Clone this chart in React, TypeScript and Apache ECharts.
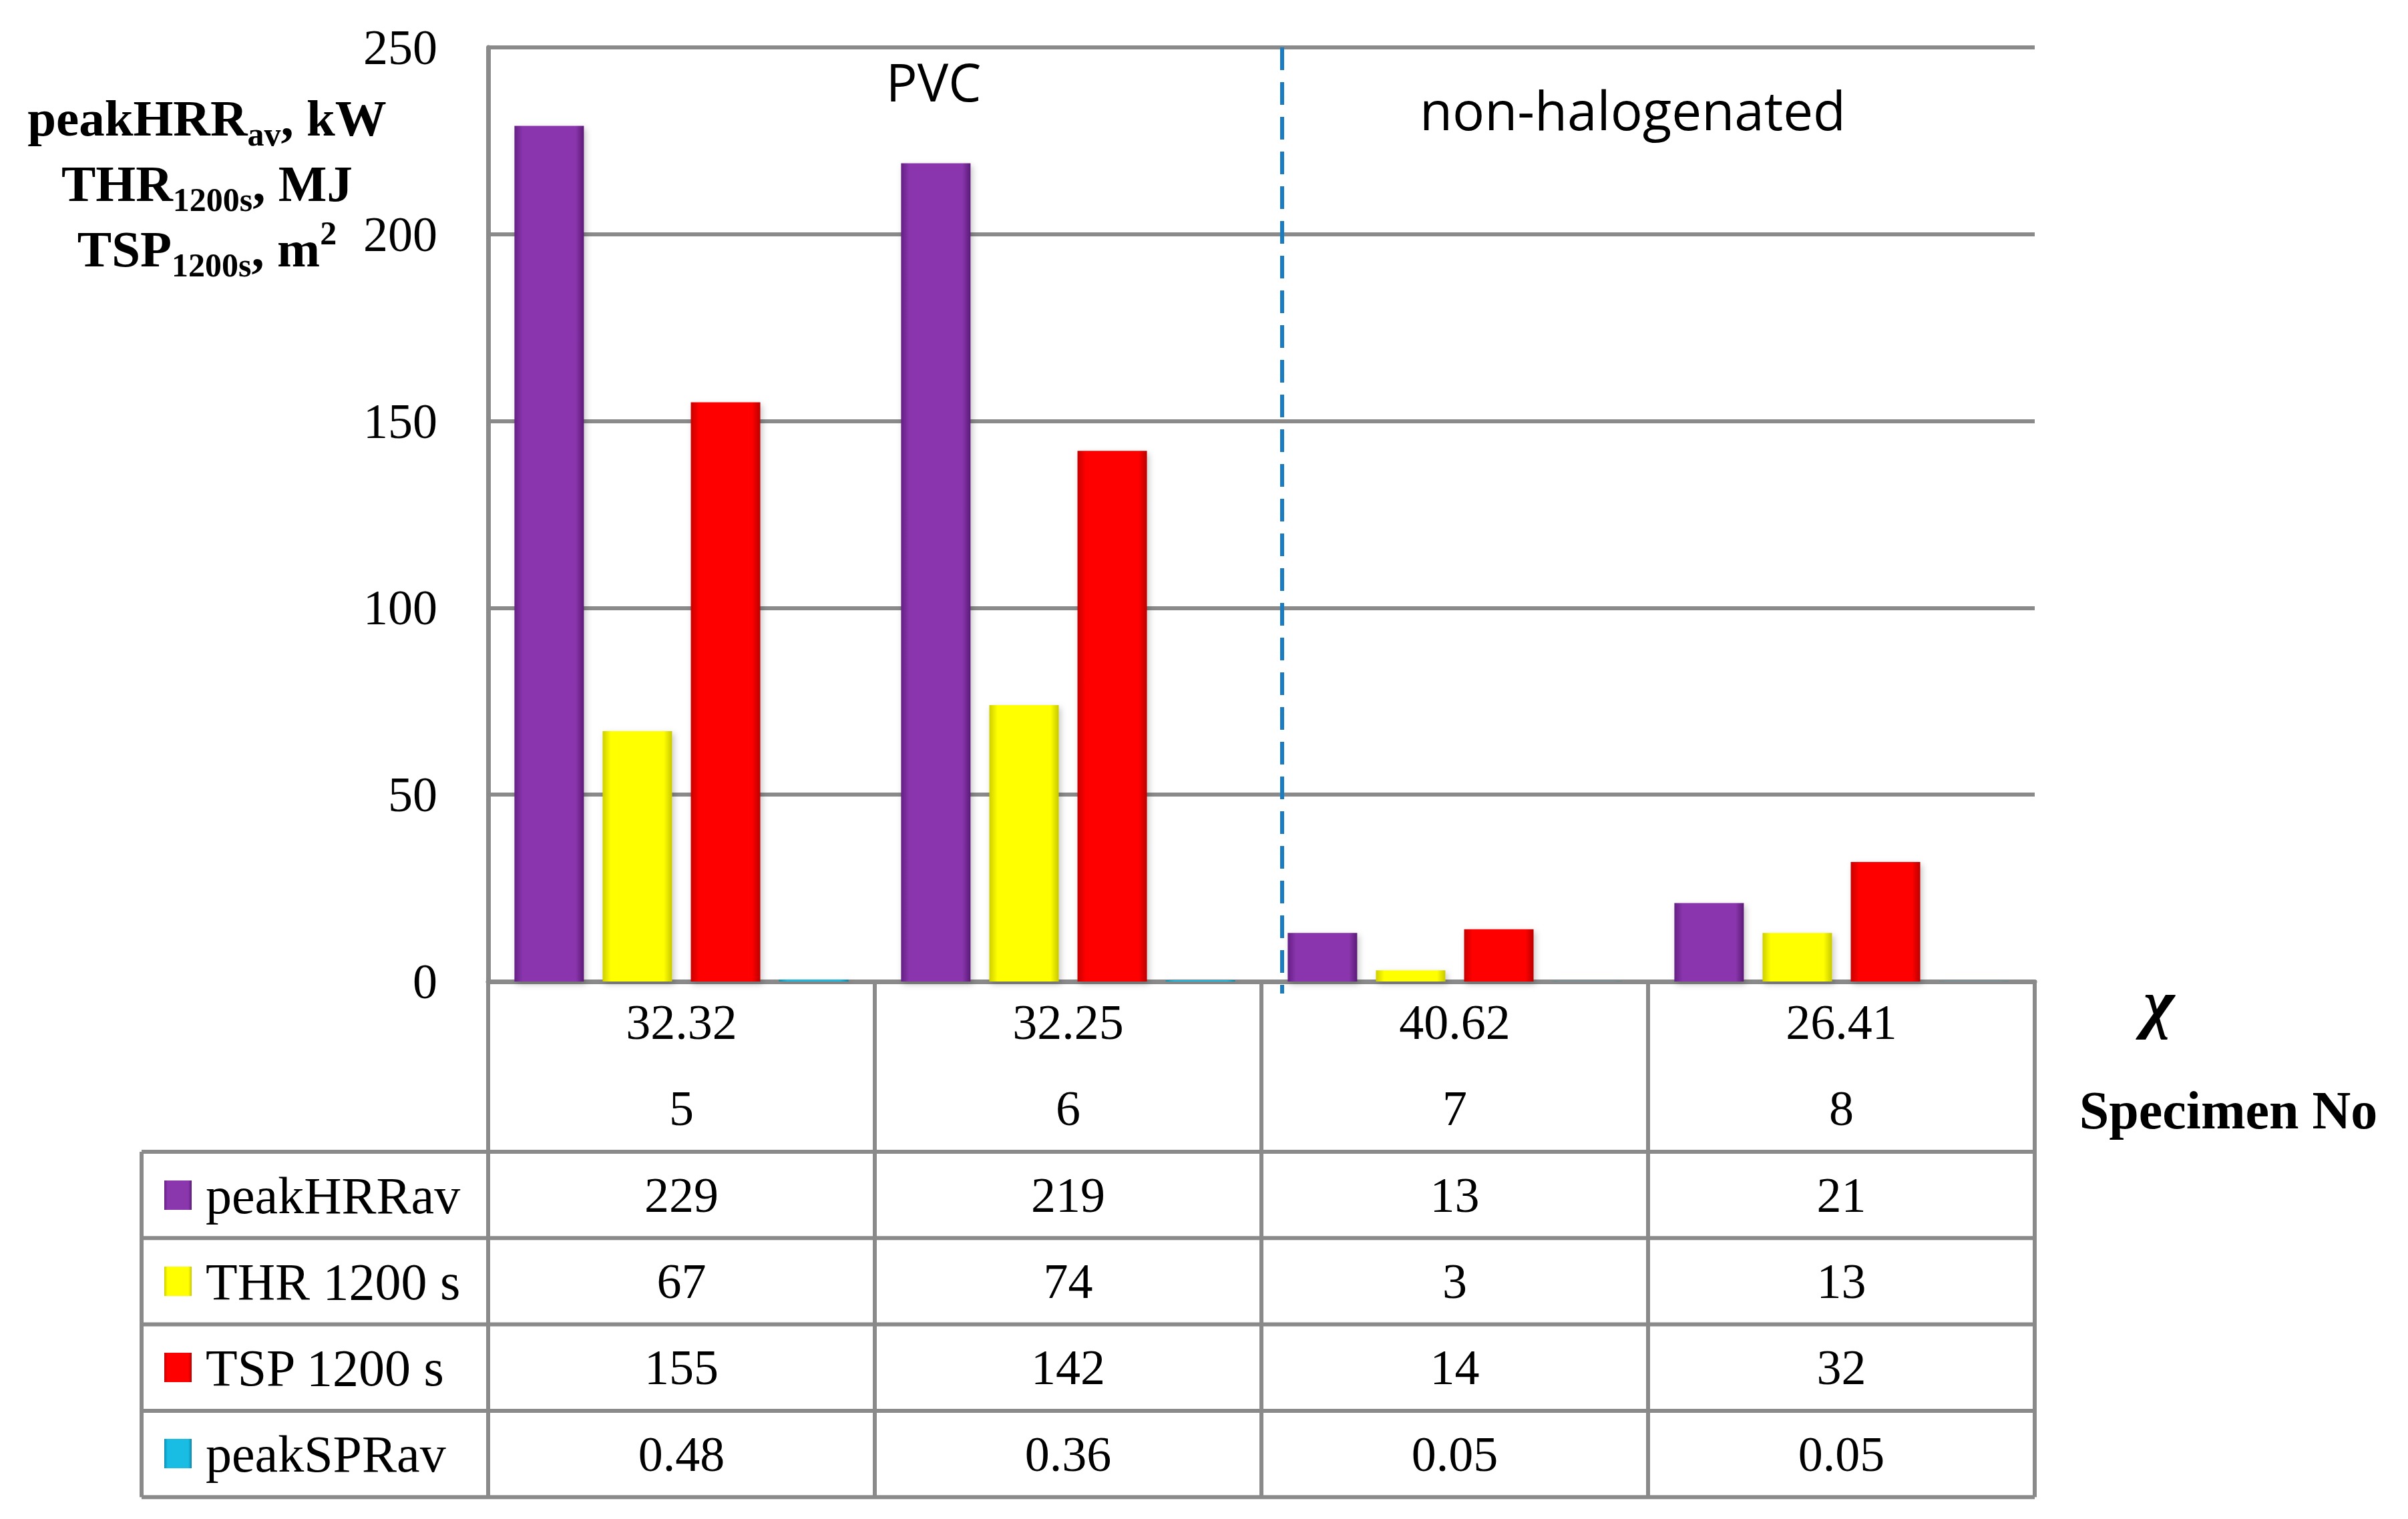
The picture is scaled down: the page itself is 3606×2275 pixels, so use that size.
import React, { useEffect, useRef } from 'react';
import * as echarts from 'echarts';

// ---- data ----
const specimens = ['5', '6', '7', '8'];
const chiValues = ['32.32', '32.25', '40.62', '26.41'];
const peakHRRav = [229, 219, 13, 21];
const thr1200 = [67, 74, 3, 13];
const tsp1200 = [155, 142, 14, 32];
const peakSPRav = [0.48, 0.36, 0.05, 0.05];
const seriesNames = ['peakHRRav', 'THR 1200 s', 'TSP 1200 s', 'peakSPRav'];
const seriesValues = [peakHRRav, thr1200, tsp1200, peakSPRav];
const yMin = 0;
const yMax = 250;
const yStep = 50;
const groupLabels = ['PVC', 'non-halogenated'];

// ---- layout / style ----
const W = 3606;
const H = 2275;
const gridLeft = 731;
const gridRight = 3047;
const gridTop = 71;
const gridBottom = 1470;
const tableLeft = 212;
const tableTop = 1725;
const rowH = 129.3;
const tableBottom = tableTop + rowH * 4;
const colW = (gridRight - gridLeft) / specimens.length;
const lineGray = '#8a8a8a';
const SERIF = '"Liberation Serif", "Times New Roman", serif';
const SANS = '"Open Sans", "Noto Sans", sans-serif';

const barColors = [
  ['#651f85', '#8a36ad', '#8a36ad', '#5a1a77'],
  ['#cfcf00', '#ffff00', '#ffff00', '#c8c800'],
  ['#c80000', '#ff0000', '#ff0000', '#bb0000'],
  ['#0a8fb5', '#19bce3', '#19bce3', '#0a86aa'],
];

const grad = (c: string[]) =>
  new echarts.graphic.LinearGradient(0, 0, 1, 0, [
    { offset: 0, color: c[0] },
    { offset: 0.12, color: c[1] },
    { offset: 0.88, color: c[2] },
    { offset: 1, color: c[3] },
  ]);

export default function App() {
  const ref = useRef<HTMLDivElement>(null);

  useEffect(() => {
    if (!ref.current) return;
    const chart = echarts.init(ref.current, null, { renderer: 'svg' });

    const option: any = {
      animation: false,
      backgroundColor: '#ffffff',
      grid: {
        left: gridLeft,
        right: W - gridRight,
        top: gridTop,
        bottom: H - gridBottom,
        containLabel: false,
      },
      legend: {
        orient: 'vertical',
        left: 241,
        top: 1787 - 41,
        itemWidth: 41,
        itemHeight: 44,
        itemGap: 129 - 78,
        icon: 'rect',
        selectedMode: false,
        data: seriesNames,
        textStyle: {
          fontSize: 78,
          lineHeight: 78,
          fontFamily: SERIF,
          color: '#000',
          padding: [0, 0, 0, 16],
        },
      },
      xAxis: {
        type: 'category',
        data: specimens,
        boundaryGap: true,
        axisLine: { show: true, lineStyle: { color: lineGray, width: 7 } },
        axisTick: {
          show: true,
          interval: 0,
          length: tableBottom - gridBottom,
          lineStyle: { color: lineGray, width: 6 },
        },
        axisLabel: {
          interval: 0,
          margin: -4,
          fontSize: 74,
          lineHeight: 129,
          fontFamily: SERIF,
          color: '#000',
          formatter: (v: string, i: number) => `${chiValues[i]}\n${v}`,
        },
        splitLine: { show: false },
      },
      yAxis: {
        type: 'value',
        min: yMin,
        max: yMax,
        interval: yStep,
        axisLine: { show: true, lineStyle: { color: lineGray, width: 7 } },
        axisTick: { show: false },
        axisLabel: { fontSize: 74, fontFamily: SERIF, color: '#000', margin: 76 },
        splitLine: { show: true, lineStyle: { color: lineGray, width: 6 } },
      },
      series: seriesNames.map((name, k) => ({
        name,
        type: 'bar',
        data: seriesValues[k],
        barWidth: 104,
        barGap: '27%',
        itemStyle: {
          color: grad(barColors[k]),
          shadowBlur: 10,
          shadowColor: 'rgba(0,0,0,0.22)',
          shadowOffsetX: 3,
          shadowOffsetY: 4,
        },
      })),
    };
    chart.setOption(option);

    const cx = specimens.map((s, i) => {
      let p: any = null;
      try {
        p = chart.convertToPixel({ xAxisIndex: 0 }, i);
      } catch (e) {
        p = null;
      }
      return typeof p === 'number' && isFinite(p) ? p : gridLeft + colW * (i + 0.5);
    });

    const txt = (x: number, y: number, text: string, extra: any = {}) => ({
      type: 'text',
      x,
      y,
      z: 20,
      style: {
        text,
        fill: '#000',
        fontSize: 74,
        fontFamily: SERIF,
        align: 'center',
        textAlign: 'center',
        verticalAlign: 'middle',
        textVerticalAlign: 'middle',
        ...extra,
      },
    });

    const graphics: any[] = [];

    // y-axis title with subscripts
    graphics.push({
      type: 'text',
      x: 310,
      y: 128,
      z: 20,
      style: {
        text:
          '{m|peakHRR}{s|av}{m|, kW}\n{m|THR}{s|1200s}{m|, MJ}\n{m|TSP}{s|1200s}{m|, m}{p|2}',
        align: 'center',
        textAlign: 'center',
        verticalAlign: 'top',
        textVerticalAlign: 'top',
        fill: '#000',
        rich: {
          m: { fontSize: 77, fontWeight: 'bold', fontFamily: SERIF, lineHeight: 98, align: 'center' },
          s: {
            fontSize: 50,
            fontWeight: 'bold',
            fontFamily: SERIF,
            lineHeight: 46,
            verticalAlign: 'bottom',
            align: 'center',
          },
          p: {
            fontSize: 50,
            fontWeight: 'bold',
            fontFamily: SERIF,
            lineHeight: 70,
            verticalAlign: 'top',
            align: 'center',
          },
        },
      },
    });

    // group labels
    graphics.push(txt(1398, 122, groupLabels[0], { fontFamily: SANS, fontSize: 78 }));
    graphics.push(txt(2445, 163, groupLabels[1], { fontFamily: SANS, fontSize: 80 }));

    // dashed divider
    graphics.push({
      type: 'line',
      z: 15,
      shape: { x1: 1920, y1: gridTop, x2: 1920, y2: gridBottom + 18 },
      style: { stroke: '#1a7cc1', lineWidth: 6, lineDash: [34, 18] },
    });

    // chi and Specimen No
    graphics.push(txt(3233, 1502, 'χ', { fontWeight: 'bold', fontSize: 100, fontStyle: 'italic' }));
    graphics.push(txt(3337, 1663, 'Specimen No', { fontWeight: 'bold', fontSize: 80 }));

    // table grid lines
    for (let r = 0; r <= 4; r++) {
      const y = tableTop + r * rowH;
      graphics.push({
        type: 'line',
        z: 12,
        shape: { x1: tableLeft, y1: y, x2: gridRight, y2: y },
        style: { stroke: lineGray, lineWidth: 6 },
      });
    }
    graphics.push({
      type: 'line',
      z: 12,
      shape: { x1: tableLeft, y1: tableTop, x2: tableLeft, y2: tableBottom },
      style: { stroke: lineGray, lineWidth: 6 },
    });

    // table values
    seriesValues.forEach((vals, r) => {
      const y = tableTop + (r + 0.5) * rowH;
      vals.forEach((v, i) => {
        graphics.push(txt(cx[i], y, String(v)));
      });
    });

    chart.setOption({ graphic: graphics });

    return () => chart.dispose();
  }, []);

  return (
    <div
      ref={ref}
      style={{ position: 'fixed', left: 0, top: 0, width: W, height: H, background: '#fff' }}
    />
  );
}
